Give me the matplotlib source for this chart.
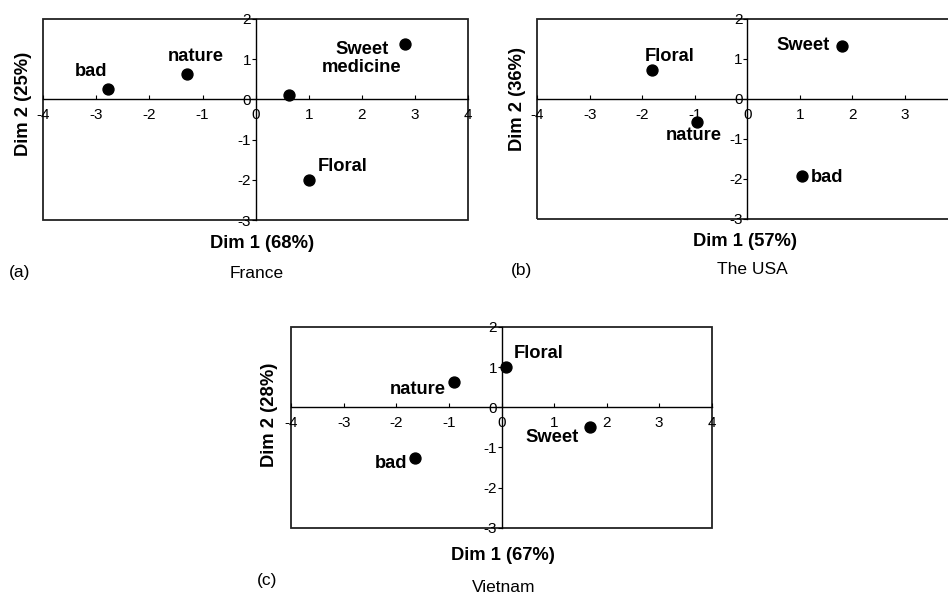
import matplotlib
matplotlib.use("Agg")
import matplotlib.pyplot as plt
from matplotlib.patches import Rectangle

plt.rcParams['font.family'] = ['Liberation Sans', 'DejaVu Sans']

# ---- data ----
france_x = [-2.78, -1.30, 0.63, 2.82, 1.00]
france_y = [0.25, 0.63, 0.10, 1.38, -2.00]
france_labels = ["bad", "nature", "", "Sweet\nmedicine", "Floral"]
france_label_x = [-3.10, -1.13, 0.0, 2.00, 1.63]
france_label_y = [0.70, 1.07, 0.0, 1.01, -1.66]

usa_x = [-1.82, -0.95, 1.80, 1.05]
usa_y = [0.72, -0.575, 1.32, -1.93]
usa_labels = ["Floral", "nature", "Sweet", "bad"]
usa_label_x = [-1.47, -1.015, 1.065, 1.52]
usa_label_y = [1.06, -0.90, 1.325, -1.96]

vn_x = [0.08, -0.90, 1.69, -1.64]
vn_y = [1.00, 0.62, -0.50, -1.26]
vn_labels = ["Floral", "nature", "Sweet", "bad"]
vn_label_x = [0.71, -1.59, 0.97, -2.10]
vn_label_y = [1.35, 0.45, -0.75, -1.41]

x_ticks = [-4, -3, -2, -1, 0, 1, 2, 3, 4]
y_ticks = [-3, -2, -1, 0, 1, 2]

W, H = 948, 594
fig = plt.figure(figsize=(W / 100, H / 100), dpi=100)


def make_panel(left, top, right, bottom, xs, ys, labels, lx, ly,
               xlabel, ylabel, ylabel_pos, xlabel_pos, tag, tag_pos, country, country_pos,
               hide_last_xlabel=False):
    ax = fig.add_axes([left / W, 1 - bottom / H, (right - left) / W, (bottom - top) / H])
    ax.set_xlim(-4, 4)
    ax.set_ylim(-3, 2)
    ax.patch.set_alpha(0)
    for s in ['top', 'right']:
        ax.spines[s].set_visible(False)
    ax.spines['left'].set_position(('data', 0))
    ax.spines['bottom'].set_position(('data', 0))
    ax.spines['left'].set_linewidth(1.0)
    ax.spines['bottom'].set_linewidth(1.0)
    ax.spines['left'].set_color('black')
    ax.spines['bottom'].set_color('black')
    ax.add_patch(Rectangle((0, 0), 1, 1, transform=ax.transAxes, fill=False,
                           edgecolor='#222222', linewidth=1.3, clip_on=False, zorder=1))
    ax.set_xticks(x_ticks)
    ax.set_yticks(y_ticks)
    xl = [str(t) for t in x_ticks]
    if hide_last_xlabel:
        xl[-1] = ''
    ax.set_xticklabels(xl)
    ax.set_yticklabels([str(t) for t in y_ticks])
    ax.tick_params(axis='x', direction='in', length=3, width=0.8, pad=6.5, labelsize=11)
    ax.tick_params(axis='y', direction='out', length=3, width=0.8, pad=0.3, labelsize=11)
    ax.scatter(xs, ys, s=62, color='black', zorder=5, clip_on=False)
    for t, x, y in zip(labels, lx, ly):
        if t:
            ax.text(x, y, t, ha='center', va='center', fontsize=13.2,
                    fontweight='bold', linespacing=1.1)
    fig.text(xlabel_pos[0] / W, 1 - xlabel_pos[1] / H, xlabel, ha='center', va='center',
             fontsize=13.2, fontweight='bold')
    fig.text(ylabel_pos[0] / W, 1 - ylabel_pos[1] / H, ylabel, ha='center', va='center',
             fontsize=13.2, fontweight='bold', rotation=90)
    fig.text(tag_pos[0] / W, 1 - tag_pos[1] / H, tag, ha='center', va='center', fontsize=12.5)
    fig.text(country_pos[0] / W, 1 - country_pos[1] / H, country, ha='center', va='center',
             fontsize=12.5)
    return ax


make_panel(43.3, 19, 468, 220, france_x, france_y, france_labels, france_label_x, france_label_y,
           "Dim 1 (68%)", "Dim 2 (25%)", (24, 104), (262, 244), "(a)", (20, 273),
           "France", (257, 273))
make_panel(537.3, 19, 957.3, 219, usa_x, usa_y, usa_labels, usa_label_x, usa_label_y,
           "Dim 1 (57%)", "Dim 2 (36%)", (517, 99), (745, 241), "(b)", (521, 270),
           "The USA", (752, 270), hide_last_xlabel=True)
make_panel(291.3, 327, 711.7, 527.7, vn_x, vn_y, vn_labels, vn_label_x, vn_label_y,
           "Dim 1 (67%)", "Dim 2 (28%)", (270, 414.5), (503, 555), "(c)", (267, 580),
           "Vietnam", (504, 588))

fig.savefig("out.png", dpi=100)
